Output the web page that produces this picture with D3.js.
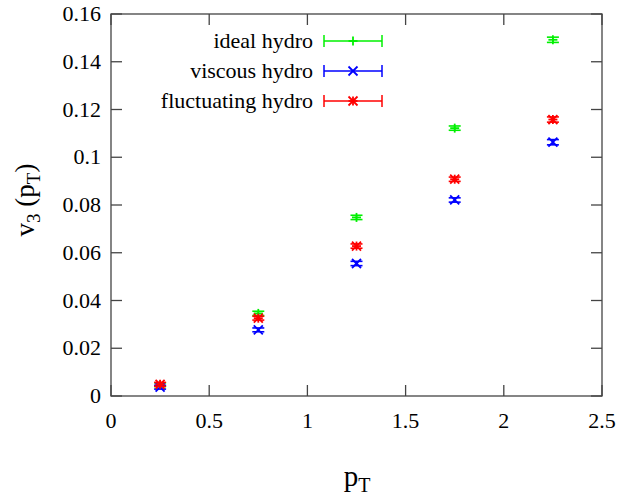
<!DOCTYPE html>
<html><head><meta charset="utf-8">
<script src="https://cdn.jsdelivr.net/npm/d3@7"></script>
<style>body{margin:0;background:#fff}svg{display:block}</style>
</head><body>
<script>
const pt = [0.25, 0.75, 1.25, 1.75, 2.25];
const idealHydro = [0.0047, 0.0346, 0.0748, 0.1122, 0.1492];
const viscousHydro = [0.0037, 0.0277, 0.0555, 0.0821, 0.1063];
const fluctHydro = [0.0049, 0.0326, 0.0628, 0.0908, 0.1158];
const errIdeal = [0.0008, 0.0009, 0.0009, 0.0009, 0.0011];
const errVisc = [0.0008, 0.0008, 0.0009, 0.0009, 0.0011];
const errFluct = [0.0008, 0.0008, 0.0009, 0.0009, 0.0011];
const xTicks = [0, 0.5, 1, 1.5, 2, 2.5];
const yTicks = [0, 0.02, 0.04, 0.06, 0.08, 0.1, 0.12, 0.14, 0.16];
const seriesNames = ["ideal hydro", "viscous hydro", "fluctuating hydro"];
const seriesColors = ["#00f000", "#0000ff", "#ff0000"];

const W = 622, H = 500;
const L = 111, R = 602, T = 14, B = 396;
const svg = d3.select("body").append("svg").attr("width", W).attr("height", H);
const x = d3.scaleLinear().domain([0, 2.5]).range([L, R]);
const y = d3.scaleLinear().domain([0, 0.16]).range([B, T]);
const font = "'Liberation Serif', 'Times New Roman', serif";
const axCol = "#444";
const tl = 11;

svg.append("rect").attr("x", L).attr("y", T).attr("width", R - L).attr("height", B - T)
  .attr("fill", "none").attr("stroke", axCol).attr("stroke-width", 1.3);

const g = svg.append("g").attr("stroke", axCol).attr("stroke-width", 1.3);
xTicks.forEach(v => {
  g.append("line").attr("x1", x(v)).attr("x2", x(v)).attr("y1", B).attr("y2", B - tl);
  g.append("line").attr("x1", x(v)).attr("x2", x(v)).attr("y1", T).attr("y2", T + tl);
});
yTicks.forEach(v => {
  g.append("line").attr("y1", y(v)).attr("y2", y(v)).attr("x1", L).attr("x2", L + tl);
  g.append("line").attr("y1", y(v)).attr("y2", y(v)).attr("x1", R).attr("x2", R - tl);
});
xTicks.forEach(v => {
  svg.append("text").attr("x", x(v)).attr("y", 428).attr("text-anchor", "middle")
    .attr("font-family", font).attr("font-size", 22).text(v);
});
yTicks.forEach(v => {
  svg.append("text").attr("x", 101).attr("y", y(v) + 7).attr("text-anchor", "end")
    .attr("font-family", font).attr("font-size", 22).text(v);
});

const xl = svg.append("text").attr("x", 357).attr("y", 486).attr("text-anchor", "middle")
  .attr("font-family", font).attr("font-size", 29);
xl.append("tspan").text("p");
xl.append("tspan").attr("dy", 6).attr("font-size", 20).text("T");

const yl = svg.append("text").attr("transform", "translate(34,200) rotate(-90)")
  .attr("text-anchor", "middle").attr("font-family", font).attr("font-size", 27);
yl.append("tspan").text("v");
yl.append("tspan").attr("dy", 6).attr("font-size", 19).text("3");
yl.append("tspan").attr("dy", -6).text(" (p");
yl.append("tspan").attr("dy", 6).attr("font-size", 19).text("T");
yl.append("tspan").attr("dy", -6).text(")");

const ms = 4.5;
function marker(sel, type, cx, cy, col) {
  const segs = [];
  if (type === 0 || type === 2) { segs.push([-ms, 0, ms, 0], [0, -ms, 0, ms]); }
  if (type === 1 || type === 2) { segs.push([-ms, -ms, ms, ms], [-ms, ms, ms, -ms]); }
  segs.forEach(s => sel.append("line").attr("x1", cx + s[0]).attr("y1", cy + s[1])
    .attr("x2", cx + s[2]).attr("y2", cy + s[3]).attr("stroke", col).attr("stroke-width", 1.8));
}
const capW = 6;
function errbar(sel, cx, y0, y1, col) {
  sel.append("line").attr("x1", cx).attr("x2", cx).attr("y1", y0).attr("y2", y1).attr("stroke", col).attr("stroke-width", 1.6);
  [y0, y1].forEach(yy => sel.append("line").attr("x1", cx - capW).attr("x2", cx + capW)
    .attr("y1", yy).attr("y2", yy).attr("stroke", col).attr("stroke-width", 1.6));
}

const data = [idealHydro, viscousHydro, fluctHydro];
const errs = [errIdeal, errVisc, errFluct];
data.forEach((vals, si) => {
  const gs = svg.append("g");
  vals.forEach((v, i) => {
    errbar(gs, x(pt[i]), y(v - errs[si][i]), y(v + errs[si][i]), seriesColors[si]);
    marker(gs, si, x(pt[i]), y(v), seriesColors[si]);
  });
});

const ly = [41, 71, 101];
seriesNames.forEach((n, i) => {
  svg.append("text").attr("x", 313).attr("y", ly[i] + 7).attr("text-anchor", "end")
    .attr("font-family", font).attr("font-size", 22).text(n);
  const lg = svg.append("g");
  const c = seriesColors[i];
  lg.append("line").attr("x1", 324).attr("x2", 382).attr("y1", ly[i]).attr("y2", ly[i]).attr("stroke", c).attr("stroke-width", 1.5);
  [324, 382].forEach(xx => lg.append("line").attr("x1", xx).attr("x2", xx).attr("y1", ly[i] - 6).attr("y2", ly[i] + 6).attr("stroke", c).attr("stroke-width", 1.5));
  marker(lg, i, 353, ly[i], c);
});
</script>
</body></html>
